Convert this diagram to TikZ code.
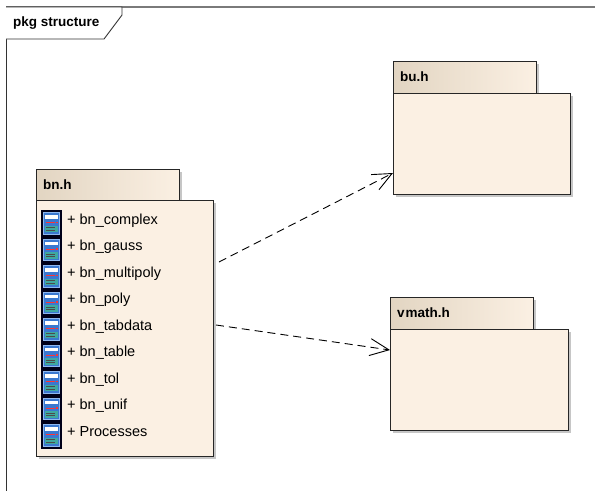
\documentclass[tikz,border=0pt]{standalone}
\usepackage{fontspec}
\setmainfont{Liberation Sans}
\usetikzlibrary{arrows.meta}
\definecolor{pkgfill}{HTML}{FBF0E3}
\definecolor{tabdark}{HTML}{E2D5C2}
\definecolor{shadowc}{HTML}{C6C6C6}
\definecolor{iconblue}{HTML}{3A78D0}
\definecolor{iconlight}{HTML}{8FB8F0}
\definecolor{iconteal}{HTML}{3FA9A0}
\definecolor{framegray}{HTML}{7A7A7A}
\tikzset{
  pkgline/.style={draw=black!85, line width=0.9pt},
  pkgbody/.style={pkgline, fill=pkgfill, inner sep=0pt, anchor=north west},
  pkgtab/.style={pkgline, left color=tabdark, right color=pkgfill, inner sep=0pt, anchor=north west},
  shadowbox/.style={fill=shadowc},
  pkglabel/.style={font=\bfseries\fontsize{13.5}{16}\selectfont, anchor=west, inner sep=0pt},
  itemtext/.style={font=\fontsize{14.5}{17}\selectfont, anchor=base west, inner sep=0pt},
  dep/.style={draw=black, line width=0.9pt, dash pattern=on 8pt off 5pt, -{Straight Barb[length=19pt,width=17pt,line width=0.9pt]}}
}
\begin{document}
\begin{tikzpicture}[x=1pt,y=-1pt]
\useasboundingbox (0,0) rectangle (595,491);
\fill[white] (0,0) rectangle (595,491);
% frame
\draw[framegray, line width=1.5pt] (6,7) -- (595,7);
\draw[black!80, line width=0.9pt] (6,7) -- (6,491);
\draw[black!80, line width=0.9pt, fill=white] (6,7) -- (122,7) -- (122,15) -- (104,39) -- (6,39);
\node[pkglabel] (frametitle) at (13,23) {pkg structure};

% bn.h package
\fill[shadowbox] (39,172) rectangle (182,203);
\fill[shadowbox] (39,203) rectangle (216,459);
\node[pkgtab, minimum width=143pt, minimum height=31pt] (bntab) at (36,169) {};
\node[pkgbody, minimum width=177pt, minimum height=256pt] (bnbody) at (36,200) {};
\node[pkglabel] (bnlabel) at (43,185) {bn.h};

% icons
\fill[black!90!blue] (41,210) rectangle (62,449);
\foreach \i in {0,...,8} {
  \pgfmathsetmacro{\t}{210+26.5*\i}
  \filldraw[fill=iconblue, draw=iconlight, line width=0.6pt] (43.5,\t+2.5) rectangle (59.5,\t+24);
  \fill[white] (45,\t+5) rectangle (58,\t+8.5);
  \draw[red!80, line width=1pt] (46,\t+12.5) -- (55,\t+12.5);
  \fill[red!80] (56,\t+11.8) rectangle (57.5,\t+13.2);
  \fill[iconteal] (45,\t+15.5) rectangle (58,\t+22);
  \draw[black!70, line width=0.7pt] (46,\t+17.5) -- (55,\t+17.5) (46,\t+20) -- (55,\t+20);
}
\node[itemtext] (item1) at (67,224) {+ bn\_complex};
\node[itemtext] (item2) at (67,250.5) {+ bn\_gauss};
\node[itemtext] (item3) at (67,277) {+ bn\_multipoly};
\node[itemtext] (item4) at (67,303.5) {+ bn\_poly};
\node[itemtext] (item5) at (67,330) {+ bn\_tabdata};
\node[itemtext] (item6) at (67,356.5) {+ bn\_table};
\node[itemtext] (item7) at (67,383) {+ bn\_tol};
\node[itemtext] (item8) at (67,409.5) {+ bn\_unif};
\node[itemtext] (item9) at (67,436) {+ Processes};

% bu.h package
\fill[shadowbox] (396,64) rectangle (539,96);
\fill[shadowbox] (396,96) rectangle (573,197);
\node[pkgtab, minimum width=143pt, minimum height=32pt] (butab) at (393,61) {};
\node[pkgbody, minimum width=177pt, minimum height=101pt] (bubody) at (393,93) {};
\node[pkglabel] (bulabel) at (400,77) {bu.h};

% vmath.h package
\fill[shadowbox] (393,300) rectangle (536,332);
\fill[shadowbox] (393,332) rectangle (571,433);
\node[pkgtab, minimum width=143pt, minimum height=32pt] (vmtab) at (390,297) {};
\node[pkgbody, minimum width=178pt, minimum height=101pt] (vmbody) at (390,329) {};
\node[pkglabel] (vmlabel) at (397,313) {v\kern0.8pt math.h};

% dependencies
\coordinate (s1) at (219,262);
\coordinate (e1) at (393,173);
\coordinate (s2) at (216,325);
\coordinate (e2) at (390,350);
\draw[dep] (s1) -- (e1);
\draw[dep] (s2) -- (e2);
\end{tikzpicture}
\end{document}
